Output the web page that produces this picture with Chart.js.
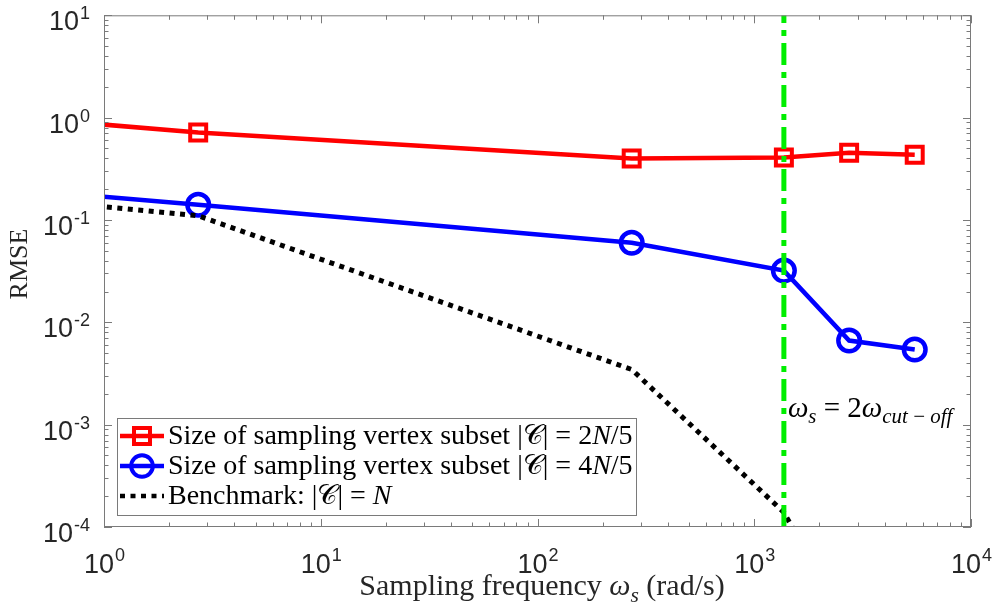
<!DOCTYPE html>
<html>
<head>
<meta charset="utf-8">
<script src="https://cdn.jsdelivr.net/npm/chart.js@4.4.0/dist/chart.umd.min.js"></script>
<style>
body { margin: 0; background: #fff; }
#wrap { width: 1004px; height: 608px; position: relative; }
</style>
</head>
<body>
<div id="wrap"><canvas id="canvas"></canvas></div>
<script>
// sampling frequency (rad/s); first value sits left of the axis, only sets the slope at the edge
var freq = [0.272, 2.72, 272, 1370, 2740, 5500];
var rmse2N5 = [1.08, 0.714, 0.398, 0.407, 0.455, 0.435];
var rmse4N5 = [0.214, 0.141, 0.060, 0.032, 0.00664, 0.00542];
var freqBench = [0.272, 2.72, 272, 1370, 2740];
var rmseBench = [0.176, 0.110, 0.00346, 0.000139, 0.00001];
var cutoffX = [1370, 1370];
var cutoffY = [1e-4, 10];
var xTickExp = [0, 1, 2, 3, 4];
var yTickExp = [-4, -3, -2, -1, 0, 1];

// text pieces: '' roman, 'i' italic, 'is' italic subscript, 'c' calligraphic
var legendLabels = [
	[['Size of sampling vertex subset |', ''], ['\uD835\uDC9E', 'c'], ['| = 2', ''], ['N', 'i'], ['/5', '']],
	[['Size of sampling vertex subset |', ''], ['\uD835\uDC9E', 'c'], ['| = 4', ''], ['N', 'i'], ['/5', '']],
	[['Benchmark: |', ''], ['\uD835\uDC9E', 'c'], ['| = ', ''], ['N', 'i']]
];
var xTitle = [['Sampling frequency ', ''], ['\u03C9', 'i'], ['s', 'is'], [' (rad/s)', '']];
var yTitle = 'RMSE';
var cutoffText = [['\u03C9', 'i'], ['s', 'is'], [' = 2', ''], ['\u03C9', 'i'], ['cut\u2009\u2212\u2009off', 'is']];

var SERIF = '"Liberation Serif", serif';
var SANS = '"Liberation Sans", Arial, sans-serif';

function pts(xs, ys) {
	return xs.map(function(x, i) { return {x: x, y: ys[i]}; });
}

function segFont(st, fs) {
	var size = st.indexOf('s') >= 0 ? fs * 0.72 : fs;
	return (st.indexOf('i') >= 0 ? 'italic ' : '') + size + 'px ' + SERIF;
}

function drawRich(ctx, segs, x, y, fs) {
	var cx = x;
	segs.forEach(function(s) {
		var sub = s[1].indexOf('s') >= 0;
		ctx.font = segFont(s[1], fs);
		ctx.fillText(s[0], cx, y + (sub ? fs * 0.22 : 0));
		cx += ctx.measureText(s[0]).width;
	});
	return cx - x;
}

function richWidth(ctx, segs, fs) {
	var w = 0;
	segs.forEach(function(s) {
		ctx.font = segFont(s[1], fs);
		w += ctx.measureText(s[0]).width;
	});
	return w;
}

var series = [
	{ data: pts(freq, rmse2N5), color: '#ff0000', style: 'rect' },
	{ data: pts(freq, rmse4N5), color: '#0000ff', style: 'circle' },
	{ data: pts(freqBench, rmseBench), color: '#000000', style: 'dot' }
];

var axesPlugin = {
	id: 'matlabAxes',
	afterDatasetsDraw: function(chart) {
		var ctx = chart.ctx;
		var ca = chart.chartArea;
		var xs = chart.scales.x, ys = chart.scales.y;
		ctx.save();
		ctx.strokeStyle = '#7a7a7a';
		ctx.lineWidth = 1;
		ctx.strokeRect(ca.left + 0.5, ca.top + 0.5, ca.right - ca.left - 1, ca.bottom - ca.top - 1);

		ctx.beginPath();
		// ticks on all four sides, pointing in
		var xTop = Math.pow(10, xTickExp[xTickExp.length - 1]);
		for (var e = xTickExp[0]; e <= xTickExp[xTickExp.length - 1]; e++) {
			for (var m = 1; m <= 9; m++) {
				var v = m * Math.pow(10, e);
				if (v > xTop) break;
				var px = Math.round(xs.getPixelForValue(v)) + 0.5;
				var len = m == 1 ? 8 : 4.5;
				ctx.moveTo(px, ca.bottom); ctx.lineTo(px, ca.bottom - len);
				ctx.moveTo(px, ca.top); ctx.lineTo(px, ca.top + len);
			}
		}
		var yTop = Math.pow(10, yTickExp[yTickExp.length - 1]);
		for (var e2 = yTickExp[0]; e2 <= yTickExp[yTickExp.length - 1]; e2++) {
			for (var m2 = 1; m2 <= 9; m2++) {
				var v2 = m2 * Math.pow(10, e2);
				if (v2 > yTop) break;
				var py = Math.round(ys.getPixelForValue(v2)) + 0.5;
				var len2 = m2 == 1 ? 8 : 4.5;
				ctx.moveTo(ca.left, py); ctx.lineTo(ca.left + len2, py);
				ctx.moveTo(ca.right, py); ctx.lineTo(ca.right - len2, py);
			}
		}
		ctx.stroke();

		// tick labels 10^n
		ctx.fillStyle = '#262626';
		ctx.textBaseline = 'alphabetic';
		ctx.textAlign = 'left';
		var big = '27px ' + SANS, small = '18px ' + SANS;
		xTickExp.forEach(function(e) {
			var px = xs.getPixelForValue(Math.pow(10, e));
			ctx.font = big;
			var w1 = ctx.measureText('10').width;
			ctx.font = small;
			var w2 = ctx.measureText(String(e)).width;
			var x0 = px - (w1 + w2) / 2;
			ctx.font = big;
			ctx.fillText('10', x0, 573);
			ctx.font = small;
			ctx.fillText(String(e), x0 + w1 + 1, 561);
		});
		yTickExp.forEach(function(e) {
			var py = ys.getPixelForValue(Math.pow(10, e));
			var sup = e < 0 ? '-' + (-e) : String(e);
			ctx.font = big;
			var w1 = ctx.measureText('10').width;
			ctx.font = small;
			var w2 = ctx.measureText(sup).width;
			var x0 = 90 - w1 - w2 - 1;
			ctx.font = big;
			ctx.fillText('10', x0, py + 15);
			ctx.font = small;
			ctx.fillText(sup, x0 + w1 + 1, py + 4);
		});

		// axis titles
		ctx.fillStyle = '#262626';
		var fsx = 30;
		var wx = richWidth(ctx, xTitle, fsx);
		drawRich(ctx, xTitle, 542 - wx / 2, 595, fsx);
		ctx.save();
		ctx.translate(27, 264);
		ctx.rotate(-Math.PI / 2);
		ctx.font = '26px ' + SERIF;
		ctx.textAlign = 'center';
		ctx.fillText(yTitle, 0, 0);
		ctx.restore();

		// cut-off annotation
		ctx.fillStyle = '#000';
		drawRich(ctx, cutoffText, xs.getPixelForValue(cutoffX[0]) + 4, 417, 29);

		// legend
		var lx = 117.5, ly = 418.5, lw = 519, lh = 97;
		ctx.fillStyle = '#fff';
		ctx.fillRect(lx, ly, lw, lh);
		ctx.strokeStyle = '#7a7a7a';
		ctx.lineWidth = 1;
		ctx.strokeRect(lx, ly, lw, lh);
		var rows = [436, 466, 496];
		series.forEach(function(s, i) {
			var cy = rows[i];
			ctx.strokeStyle = s.color;
			ctx.lineWidth = 4.5;
			ctx.setLineDash(s.style == 'dot' ? [5, 5.5] : []);
			ctx.beginPath();
			ctx.moveTo(120, cy); ctx.lineTo(164, cy);
			ctx.stroke();
			ctx.setLineDash([]);
			ctx.lineWidth = 4;
			if (s.style == 'rect') {
				ctx.strokeRect(142 - 8, cy - 8, 16, 16);
			} else if (s.style == 'circle') {
				ctx.beginPath();
				ctx.arc(142, cy, 10.8, 0, Math.PI * 2);
				ctx.stroke();
			}
			ctx.fillStyle = '#000';
			drawRich(ctx, legendLabels[i], 168, cy + 8, 28);
		});
		ctx.restore();
	}
};

const ctx = document.getElementById('canvas').getContext('2d');

const myChart = new Chart(ctx, {
	type: 'scatter',
	data: {
		datasets: [{
			label: 'cutoff',
			data: pts(cutoffX, cutoffY),
			showLine: true,
			borderColor: '#00ee00',
			borderWidth: 5,
			borderDash: [22, 7, 6, 7],
			pointRadius: 0,
			order: 0
		}, {
			label: 'bench',
			data: series[2].data,
			showLine: true,
			borderColor: '#000000',
			borderWidth: 5,
			borderDash: [5, 5.5],
			pointRadius: 0,
			order: 1
		}, {
			label: 'blue',
			data: series[1].data,
			showLine: true,
			borderColor: '#0000ff',
			borderWidth: 4.5,
			pointStyle: 'circle',
			pointRadius: 10.8,
			pointBorderWidth: 4.5,
			pointBorderColor: '#0000ff',
			pointBackgroundColor: 'rgba(0,0,0,0)',
			order: 2
		}, {
			label: 'red',
			data: series[0].data,
			showLine: true,
			borderColor: '#ff0000',
			borderWidth: 4.5,
			pointStyle: 'rect',
			pointRadius: 11.3,
			pointBorderWidth: 4,
			pointBorderColor: '#ff0000',
			pointBackgroundColor: 'rgba(0,0,0,0)',
			order: 3
		}]
	},
	options: {
		responsive: true,
		maintainAspectRatio: false,
		animation: false,
		events: [],
		layout: { padding: { left: 104, top: 15, right: 33, bottom: 81 } },
		scales: {
			x: { type: 'logarithmic', min: 1, max: 10000, display: false },
			y: { type: 'logarithmic', min: 1e-4, max: 10, display: false }
		},
		plugins: {
			legend: { display: false },
			tooltip: { enabled: false }
		}
	},
	plugins: [axesPlugin]
});
</script>
</body>
</html>
